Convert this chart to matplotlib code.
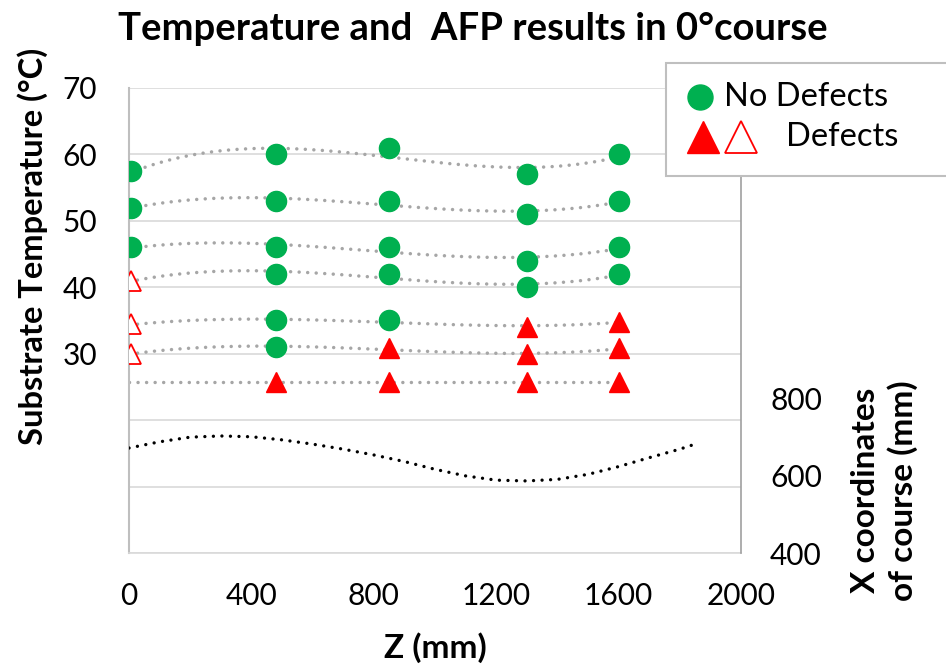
import numpy as np
import matplotlib.pyplot as plt
from matplotlib.lines import Line2D
from matplotlib.patches import Rectangle

plt.rcParams['font.family'] = ['Lato', 'DejaVu Sans']

# Z positions of the measurements (mm)
z_pos = [8, 480, 850, 1300, 1600]

# substrate temperature rows, top to bottom (None = no measurement)
temp_rows = [
    [57.5, 60, 61, 57, 60],
    [52, 53, 53, 51, 53],
    [46, 46, 46, 44, 46],
    [41, 42, 42, 40, 42],
    [34.4, 35, 35, 34, 34.8],
    [30, 31, 30.8, 29.9, 30.8],
    [None, 25.8, 25.8, 25.8, 25.8],
]
# n = no defects, d = defects (filled), o = defects (open)
status_rows = [
    ['n', 'n', 'n', 'n', 'n'],
    ['n', 'n', 'n', 'n', 'n'],
    ['n', 'n', 'n', 'n', 'n'],
    ['o', 'n', 'n', 'n', 'n'],
    ['o', 'n', 'n', 'd', 'd'],
    ['o', 'n', 'd', 'd', 'd'],
    [None, 'd', 'd', 'd', 'd'],
]

# X coordinate of the course along Z
course_z = [0, 100, 200, 300, 400, 500, 600, 700, 800, 900, 1000,
            1100, 1200, 1300, 1400, 1500, 1600, 1700, 1800, 1850]
course_x = [671, 687, 699, 702, 700, 692, 681, 668, 653, 636, 616,
            599, 588, 586, 590, 603, 623, 646, 668, 681]

green = '#00B050'
red = '#FF0000'

fig = plt.figure(figsize=(9.46, 6.65), dpi=100)
ax = fig.add_axes([0.1364, 0.1684, 0.6469, 0.6993])

# cubic trendlines through each row
zz = np.linspace(0, 1600, 200)
for temps in temp_rows:
    zs = [z for z, t in zip(z_pos, temps) if t is not None]
    ts = [t for t in temps if t is not None]
    coef = np.polyfit(zs, ts, 3)
    ax.plot(zz, np.polyval(coef, zz), color='#A6A6A6', lw=2.5,
            linestyle=(0, (0.01, 2.45)), dash_capstyle='round', zorder=2)

style = {
    'n': dict(marker='o', color=green, mfc=green, mec=green),
    'd': dict(marker='^', color=red, mfc=red, mec=red),
    'o': dict(marker='^', color=red, mfc='white', mec=red, mew=1.3),
}
for temps, stats in zip(temp_rows, status_rows):
    for z, t, s in zip(z_pos, temps, stats):
        if t is None:
            continue
        ax.plot([z], [t], linestyle='none', markersize=14.5, zorder=3, **style[s])

ax.set_xlim(0, 2000)
ax.set_ylim(0, 70)
ax.set_xticks(range(0, 2001, 400))
ax.set_yticks(range(0, 71, 10))
ax.set_yticklabels(['' if v < 30 else str(v) for v in range(0, 71, 10)])
ax.grid(axis='y', color='#D9D9D9', lw=1.2)
ax.set_axisbelow(True)
ax.tick_params(axis='both', length=0, labelsize=21.5)
ax.tick_params(axis='x', pad=21)
ax.tick_params(axis='y', pad=23)
for sp in ['top', 'right']:
    ax.spines[sp].set_visible(False)
ax.spines['left'].set_color('#BFBFBF')
ax.spines['left'].set_linewidth(1.5)
ax.spines['bottom'].set_color('#D9D9D9')
ax.spines['bottom'].set_linewidth(1.2)

ax2 = ax.twinx()
ax2.plot(course_z, course_x, color='black', lw=2.4,
         linestyle=(0, (0.01, 2.55)), dash_capstyle='round')
ax2.set_ylim(400, 1600)
ax2.set_yticks([400, 600, 800])
ax2.tick_params(axis='y', length=0, labelsize=21.5, pad=21)
for sp in ['top', 'left', 'bottom']:
    ax2.spines[sp].set_visible(False)
ax2.spines['right'].set_color('#A0A0A0')
ax2.spines['right'].set_linewidth(1.2)

# texts
fig.text(0.5, 0.957, 'Temperature and  AFP results in 0\u00b0course',
         ha='center', va='center', fontsize=27.5, fontweight='bold')
fig.text(0.034, 0.63, 'Substrate Temperature (\u00b0C)', rotation=90,
         ha='center', va='center', fontsize=23.5, fontweight='bold')
fig.text(0.46, 0.026, 'Z (mm)', ha='center', va='center',
         fontsize=24, fontweight='bold')
fig.text(0.935, 0.262, 'X coordinates\nof course (mm)', rotation=90,
         ha='center', va='center', fontsize=24, fontweight='bold',
         multialignment='center', linespacing=1.3)

# legend box
fig.add_artist(Rectangle((0.704, 0.735), 0.35, 0.17, transform=fig.transFigure,
                         facecolor='white', edgecolor='#BFBFBF', lw=1.5, zorder=5))
fig.add_artist(Line2D([0.740], [0.854], transform=fig.transFigure, marker='o',
                      markersize=18, color=green, zorder=6))
fig.text(0.765, 0.854, 'No Defects', ha='left', va='center', fontsize=23.5, zorder=6)
fig.add_artist(Line2D([0.743], [0.794], transform=fig.transFigure, marker='^',
                      markersize=23, color=red, zorder=6))
fig.add_artist(Line2D([0.783], [0.794], transform=fig.transFigure, marker='^',
                      markersize=23, color=red, mfc='white', mew=1.3, zorder=6))
fig.text(0.831, 0.794, 'Defects', ha='left', va='center', fontsize=23.5, zorder=6)

fig.savefig('out.png', dpi=100)
